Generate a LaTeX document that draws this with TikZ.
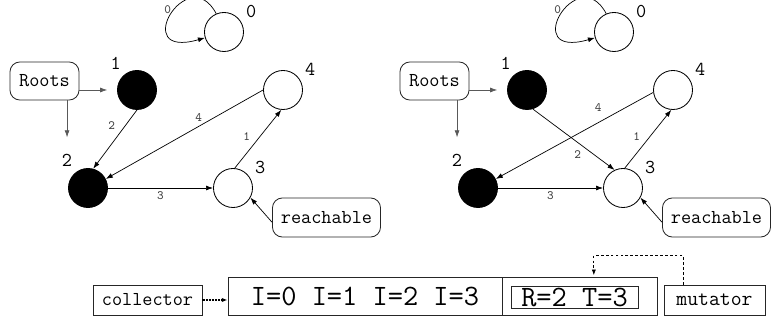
\documentclass[tikz,border=0pt]{standalone}
\usetikzlibrary{arrows.meta,positioning,calc}

\begin{document}
\begin{tikzpicture}[
    x=0.025cm, y=-0.025cm,
    obj/.style={circle, draw, line width=0.6pt, minimum size=0.975cm, inner sep=0pt},
    live/.style={obj, fill=black},
    numlbl/.style={font=\fontsize{14}{14}\selectfont\ttfamily, inner sep=1pt, label distance=3pt},
    tag/.style={rounded corners=7pt, draw=black!85, line width=0.6pt,
      font=\fontsize{14}{14}\selectfont\ttfamily},
    ptr/.style={-{Latex[length=5pt,width=3.5pt]}, line width=0.5pt},
    rootptr/.style={ptr, draw=black!65},
    wt/.style={font=\fontsize{9}{9}\selectfont\ttfamily, text=black!75, inner sep=1pt},
    cell/.style={draw=black!85, line width=0.6pt, minimum height=0.95cm, inner sep=0pt,
      font=\fontsize{21}{21}\selectfont\ttfamily},
    actor/.style={draw=black!85, line width=0.6pt, minimum height=0.75cm, inner sep=0pt,
      font=\fontsize{14}{14}\selectfont\ttfamily},
    ctrlptr/.style={-{Latex[length=4pt,width=3pt]}, line width=1pt, dash pattern=on 1.5pt off 0.7pt},
    mutptr/.style={-{Latex[length=4pt,width=3pt]}, line width=0.5pt, dash pattern=on 2pt off 1.5pt}
  ]
  \useasboundingbox (0,0) rectangle (771,320);

  % the heap before and after, same layout
  \foreach \g/\dx in {l/0, r/390} {
    \begin{scope}[shift={(\dx,0)}]
      \node[obj, label={[numlbl]32:0}] (\g-0) at (224,32) {};
      \node[live, label={[numlbl]127:1}] (\g-1) at (137,90) {};
      \node[live, label={[numlbl, name=\g-2n]126:2}] (\g-2) at (88,188) {};
      \node[obj, label={[numlbl]32:3}] (\g-3) at (233,188) {};
      \node[obj, label={[numlbl]32:4}] (\g-4) at (283,90) {};

      \node[tag, minimum width=1.725cm, minimum height=0.95cm] (\g-roots) at (44.5,81) {Roots};
      \node[tag, minimum width=2.7cm, minimum height=0.975cm] (\g-reach) at (326.5,217.5) {reachable};

      \draw[ptr] (\g-0.113) .. controls (188,-40) and (128,60) .. (\g-0.197)
        node[wt, pos=0.45, left=1pt] {0};
      \draw[rootptr, shorten >=7pt] (\g-roots.east |- \g-1) -- (\g-1.west);
      \draw[rootptr, shorten >=11pt] (\g-roots.south -| \g-2n) -- (\g-2n.north);
      \draw[ptr] (\g-2) -- (\g-3) node[wt, midway, below=1pt] {3};
      \draw[ptr] (\g-3.85) -- (\g-4.265) node[wt, pos=0.55, left=6pt] {1};
      \draw[ptr] (\g-reach.185) -- (\g-3.331);
    \end{scope}
  }

  % edges that differ between the two
  \draw[ptr] (l-1.270) -- (l-2.75) node[wt, pos=0.27, left=6pt] {2};
  \draw[ptr] (l-4.180) -- (l-2.27) node[wt, pos=0.41, above=2pt] {4};
  \draw[ptr] (r-1.287) -- (r-3.115) node[wt, pos=0.75, left=8pt] {2};
  \draw[ptr] (r-4.187) -- (r-2.27) node[wt, pos=0.35, above=7pt] {4};

  % the log
  \node[actor, minimum width=2.725cm] (collector) at (147.5,300) {collector};
  \node[cell, minimum width=6.85cm] (iters) at (365,296) {I=0 I=1 I=2 I=3};
  \node[cell, minimum width=3.85cm, right=0pt of iters] (slot) {};
  \node[cell, minimum width=3.175cm, minimum height=0.55cm] (rt) at (574.5,297) {R=2 T=3};
  \node[actor, minimum width=2.525cm, font=\fontsize{15}{15}\selectfont\ttfamily] (mutator) at (714.5,300) {mutator};

  \draw[ctrlptr] (collector.east) -- (collector.east -| iters.west);
  \draw[mutptr, shorten >=1pt] ($(mutator.north west)!0.19!(mutator.north east)$) -- ++(0,-29)
    -| ($(slot.north west)!0.59!(slot.north east)$);
\end{tikzpicture}
\end{document}
